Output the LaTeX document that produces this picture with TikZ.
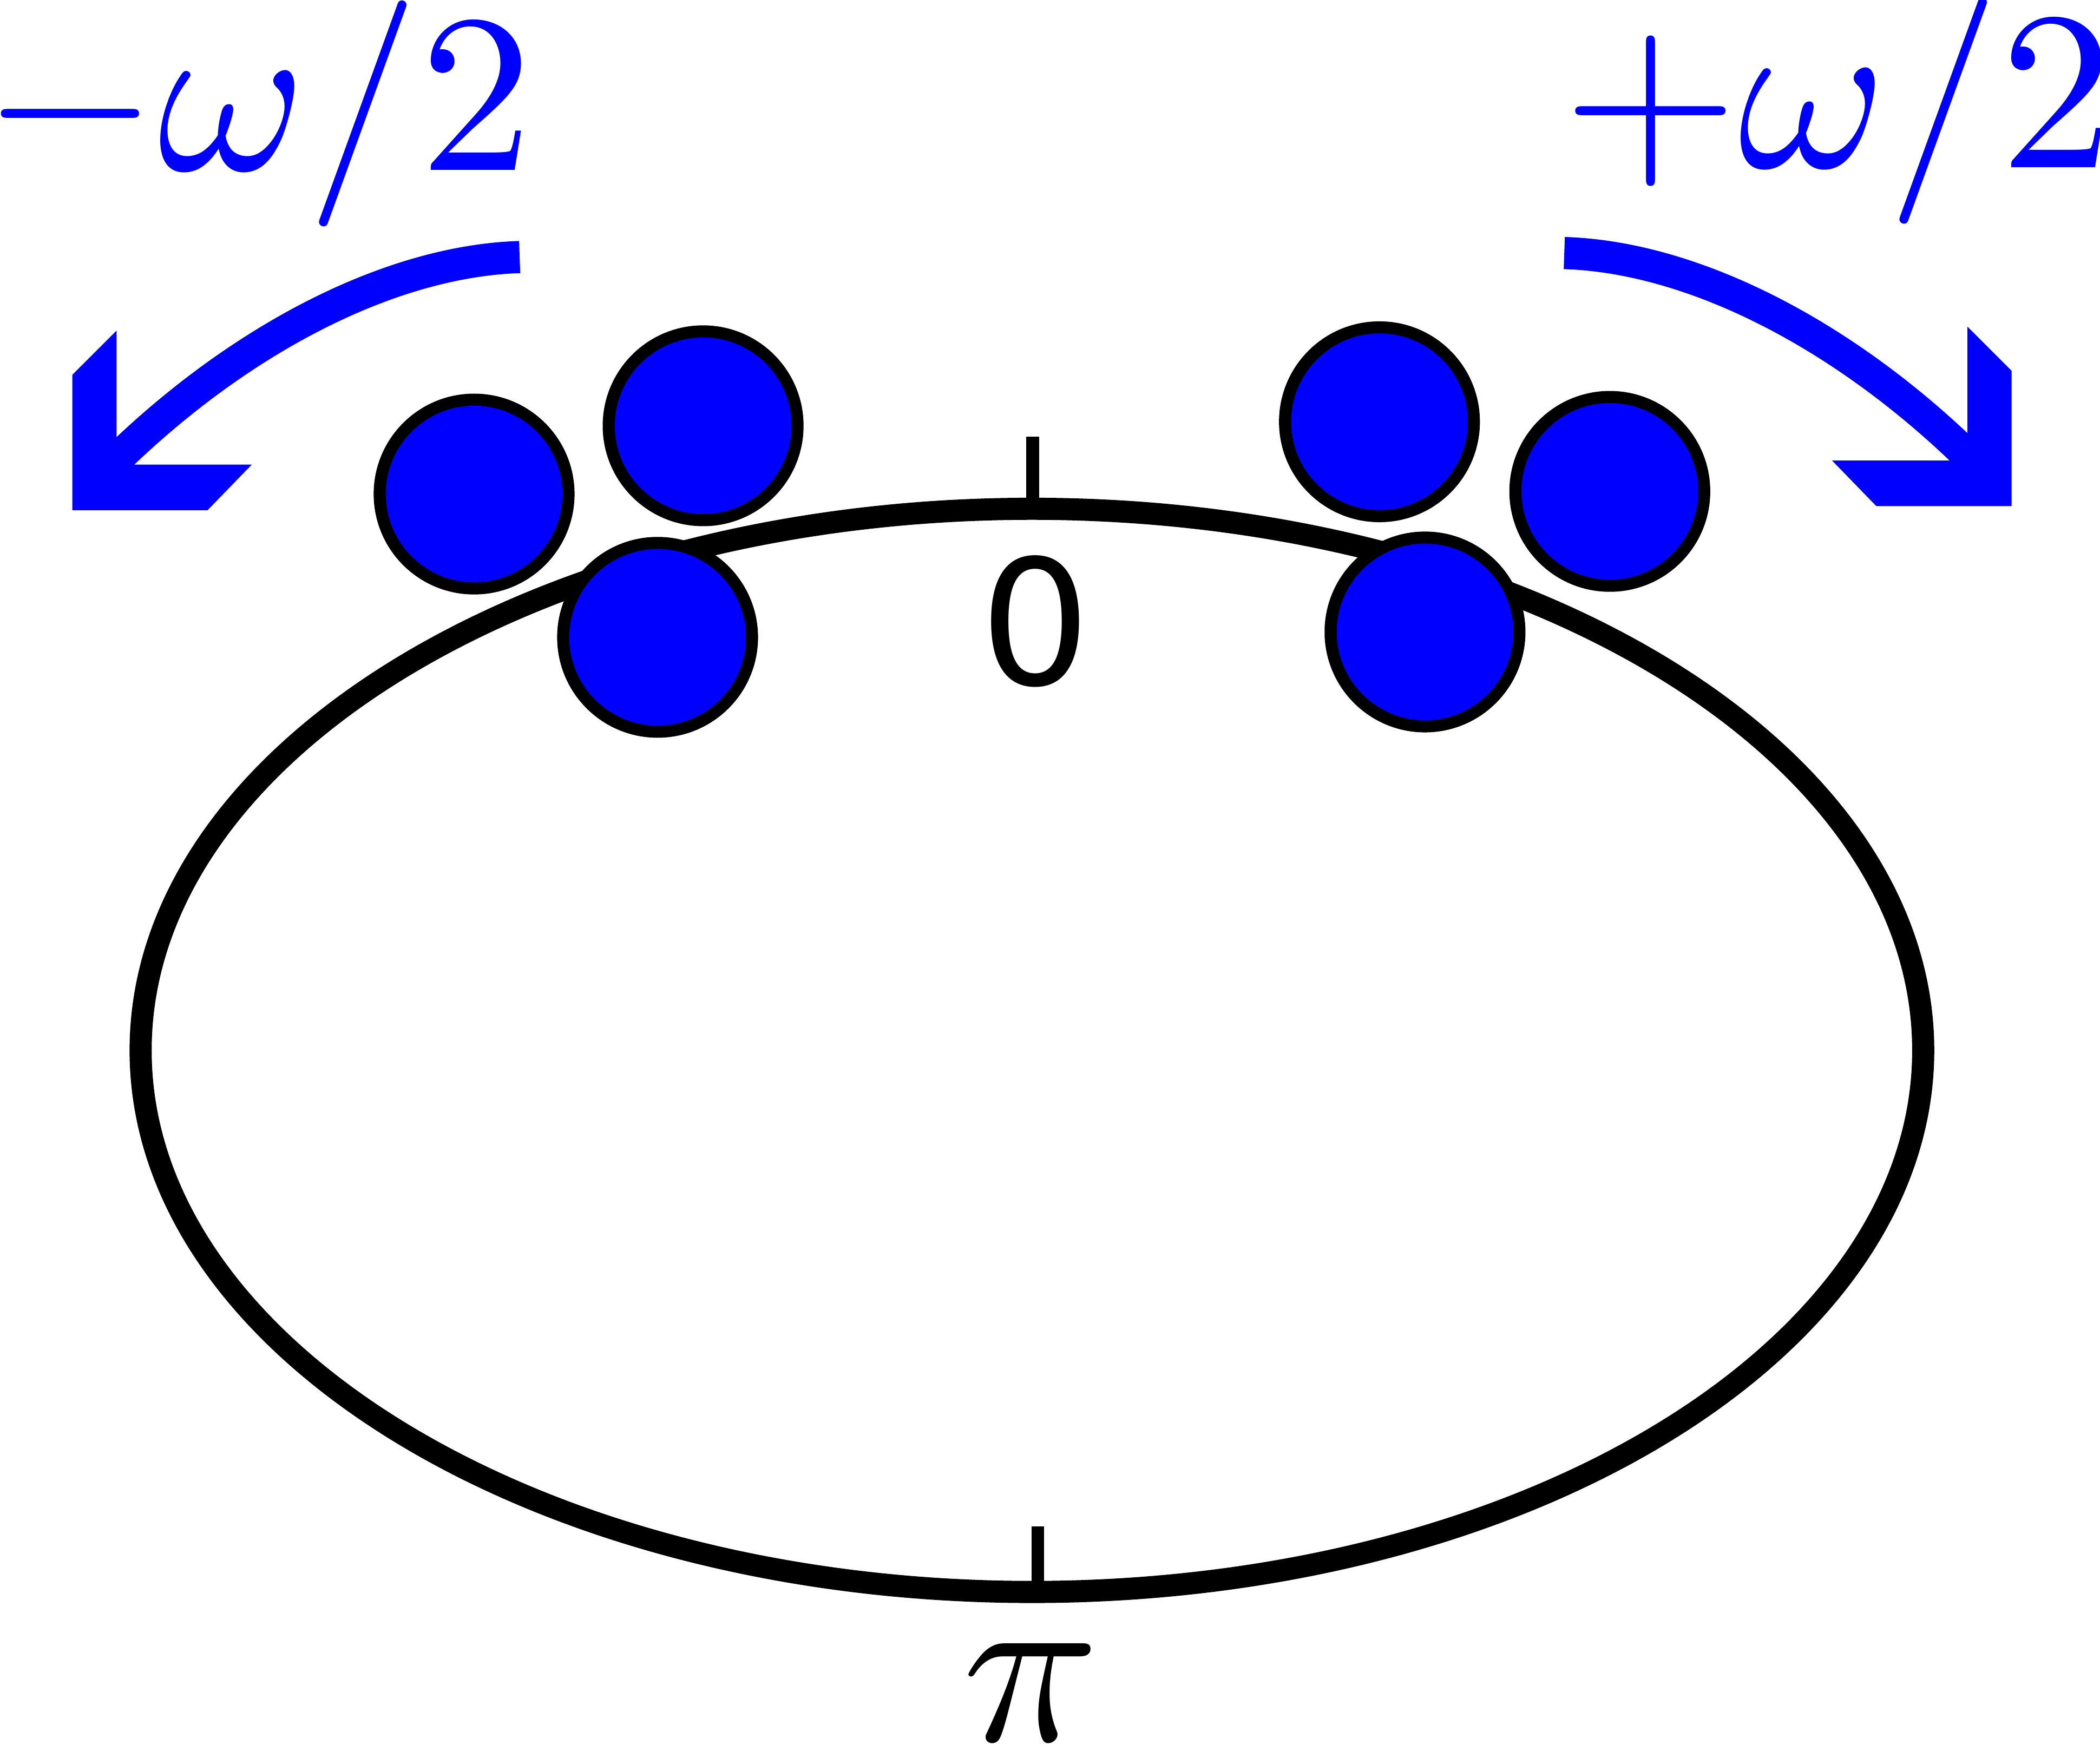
\documentclass[tikz,border=0pt]{standalone}
\usepackage{graphicx}
\usepackage{fontspec}
\newfontfamily\zerofont{DejaVu Sans}
\newcommand{\bigmath}[1]{\scalebox{4.8}{\fontsize{10}{12}\selectfont$#1$}}
\begin{document}
\begin{tikzpicture}[x=0.01cm,y=-0.01cm,
  ring/.style={line width=0.165cm,black},
  tickmark/.style={line width=0.095cm,black},
  ball/.style={fill=blue,draw=black,line width=0.09cm},
  shaft/.style={blue,line width=0.24cm},
  head/.style={fill=blue,draw=none},
  mathlabel/.style={inner sep=0pt,text=blue},
  ticklabel/.style={inner sep=0pt}]
\useasboundingbox (0,0) rectangle (1568,1303);
% ring
\draw[ring] (770.5,784.5) ellipse [x radius=665.5, y radius=404.5];
\coordinate (t0a) at (771,326);
\coordinate (t0b) at (771,380);
\coordinate (tpa) at (775,1140);
\coordinate (tpb) at (775,1197);
\draw[tickmark] (t0a) -- (t0b);
\draw[tickmark] (tpa) -- (tpb);
\node[ticklabel,font=\zerofont\fontsize{37}{44}\selectfont] (zero) at (773,464) {0};
\node[ticklabel] (pi) at (770,1264) {\bigmath{\pi}};
% balls
\draw[ball] (354,369) circle [radius=70.5];
\draw[ball] (525,318) circle [radius=70.5];
\draw[ball] (491,476) circle [radius=70.5];
\draw[ball] (1030,315) circle [radius=70.5];
\draw[ball] (1202,367) circle [radius=70.5];
\draw[ball] (1064,472) circle [radius=70.5];
% left arrow
\coordinate (ls) at (388,192);
\coordinate (le) at (80,350);
\draw[shaft] (ls) .. controls (290,195) and (175,255) .. (le);
\fill[head] (54,381) -- (54,280) -- (87,247) -- (87,347) -- (188,347) -- (155,381) -- cycle;
% right arrow
\coordinate (rs) at (1168,189);
\coordinate (re) at (1476,347);
\draw[shaft] (rs) .. controls (1266,192) and (1381,252) .. (re);
\fill[head] (1502,378) -- (1502,277) -- (1469,244) -- (1469,344) -- (1368,344) -- (1401,378) -- cycle;
% labels
\node[mathlabel,anchor=base west] (lminus) at (-14,127) {\bigmath{-\omega/2}};
\node[mathlabel,anchor=base west] (lplus) at (1166,125) {\bigmath{+\omega/2}};
\end{tikzpicture}
\end{document}
